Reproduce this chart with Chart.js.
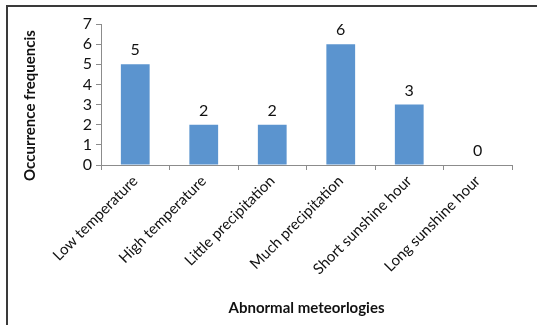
<!DOCTYPE html>
<html>
<head>
<meta charset="utf-8">
<script src="https://cdn.jsdelivr.net/npm/chart.js@4"></script>
<style>
  html, body { margin: 0; padding: 0; background: #fff; }
  #wrap { position: relative; width: 537px; height: 325px; }
  #frame {
    position: absolute; left: 6px; top: 5px; right: -4px; bottom: -4px;
    border-top: 2px solid #3a3a3a; border-left: 2px solid #3a3a3a;
  }
  canvas { position: absolute; left: 0; top: 0; }
</style>
</head>
<body>
<div id="wrap">
  <div id="frame"></div>
  <canvas id="chart" width="537" height="325"></canvas>
</div>
<script>
'use strict';

// ── DATA ──────────────────────────────────────────────────────────────────────
const CATEGORIES = [
  'Low temperature',
  'High temperature',
  'Little precipitation',
  'Much precipitation',
  'Short sunshine hour',
  'Long sunshine hour',
];
const OCCURRENCES = [5, 2, 2, 6, 3, 0];
const Y_TICKS     = [0, 1, 2, 3, 4, 5, 6, 7];
const Y_TITLE     = 'Occurrence frequencis';
const X_TITLE     = 'Abnormal meteorlogies';

const FONT      = 'Lato, "Open Sans", sans-serif';
const BAR_COLOR = '#5b94cf';
const AXIS_GRAY = '#8c8c8c';

// ── VALUE LABELS ABOVE BARS + Y TITLE (sits a bit below axis centre, like Excel) ─
const barValues = {
  id: 'barValues',
  afterDatasetsDraw(chart) {
    const ctx = chart.ctx;
    const meta = chart.getDatasetMeta(0);
    ctx.save();
    ctx.font = `16px ${FONT}`;
    ctx.fillStyle = '#111';
    ctx.textAlign = 'center';
    ctx.textBaseline = 'bottom';
    meta.data.forEach((bar, i) => {
      ctx.fillText(String(OCCURRENCES[i]), bar.x, bar.y - 6);
    });

    const area = chart.chartArea;
    ctx.translate(30, (area.top + area.bottom) / 2 + 11);
    ctx.rotate(-Math.PI / 2);
    ctx.font = `bold 15px ${FONT}`;
    ctx.textBaseline = 'middle';
    ctx.fillText(Y_TITLE, 0, 0);
    ctx.restore();
  },
};

new Chart(document.getElementById('chart').getContext('2d'), {
  type: 'bar',
  data: {
    labels: CATEGORIES,
    datasets: [{
      data: OCCURRENCES,
      backgroundColor: BAR_COLOR,
      borderWidth: 0,
      barPercentage: 0.42,
      categoryPercentage: 1,
    }],
  },
  options: {
    responsive: false,
    animation: false,
    events: [],
    layout: { padding: { left: 8, top: 24, right: 25, bottom: 0 } },
    plugins: {
      legend: { display: false },
      tooltip: { enabled: false },
    },
    scales: {
      x: {
        afterFit: s => { s.height = 160; },
        grid: {
          offset: true,
          drawOnChartArea: false,
          drawTicks: true,
          tickLength: 5,
          color: AXIS_GRAY,
        },
        border: { color: AXIS_GRAY, width: 1 },
        ticks: {
          color: '#111',
          font: { family: FONT, size: 15 },
          minRotation: 45,
          maxRotation: 45,
          autoSkip: false,
          padding: 2,
        },
        title: {
          display: true,
          text: X_TITLE,
          color: '#111',
          font: { family: FONT, size: 15, weight: 'bold' },
          padding: { top: 8, bottom: 8 },
        },
      },
      y: {
        min: 0,
        max: 7,
        afterFit: s => { s.width = 93; },
        afterBuildTicks: s => { s.ticks = Y_TICKS.map(v => ({ value: v })); },
        grid: {
          drawOnChartArea: false,
          drawTicks: true,
          tickLength: 5,
          color: AXIS_GRAY,
        },
        border: { color: AXIS_GRAY, width: 1 },
        ticks: {
          color: '#111',
          font: { family: FONT, size: 16 },
          autoSkip: false,
          padding: 4,
        },
      },
    },
  },
  plugins: [barValues],
});
</script>
</body>
</html>
